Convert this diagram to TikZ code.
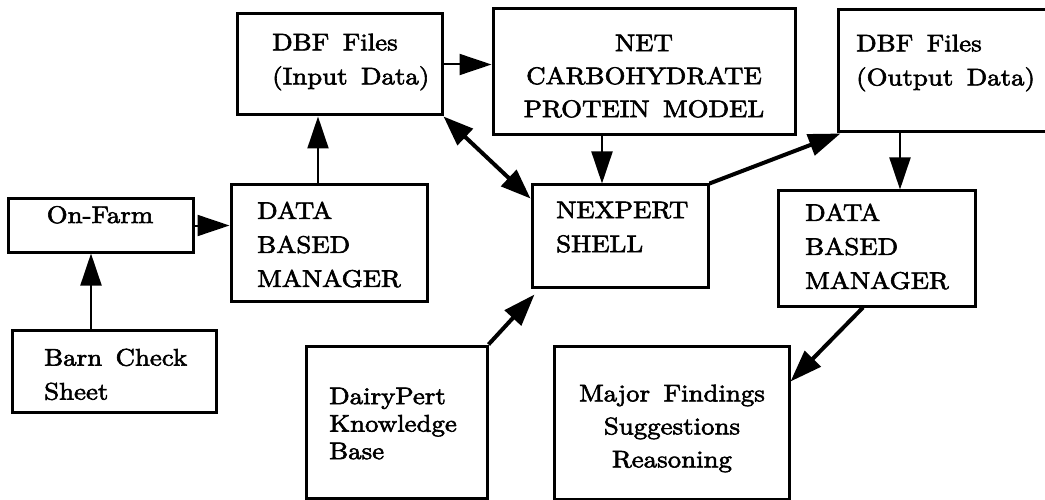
\documentclass[tikz,border=0pt]{standalone}
\usepackage{fontspec}
\setmainfont{lmroman10-regular.otf}[FakeStretch=1.12,FakeBold=2.5,WordSpace=1.5]
\usetikzlibrary{arrows.meta}
\begin{document}
\begin{tikzpicture}[x=1pt,y=-1pt,
  box/.style={draw,line width=3pt,rectangle,inner sep=0pt},
  lbl/.style={inner sep=0pt,font=\fontsize{24}{34}\selectfont,align=left},
  clbl/.style={inner sep=0pt,font=\fontsize{24}{33}\selectfont,align=center},
  thinarrow/.style={line width=2pt,-{Triangle[length=32pt,width=21pt]}},
  thickarrow/.style={line width=4pt,-{Triangle[length=32pt,width=22pt]}},
  bothheads/.style={line width=4pt,{Triangle[length=30pt,width=22pt]}-{Triangle[length=30pt,width=22pt]}},
]
\useasboundingbox (0,0) rectangle (1045,500);

% boxes
\node[box,minimum width=185pt,minimum height=53pt]  (onfarm)  at (100.5,225.5) {};
\node[box,minimum width=204pt,minimum height=82pt]  (barn)    at (114,371) {};
\node[box,minimum width=196pt,minimum height=116pt] (dbmL)    at (329,243) {};
\node[box,minimum width=205pt,minimum height=101pt] (dbfin)   at (339.5,64.5) {};
\node[box,minimum width=302pt,minimum height=126pt] (net)     at (644,72) {};
\node[box,minimum width=176pt,minimum height=102pt] (nexpert) at (620,236) {};
\node[box,minimum width=181pt,minimum height=152pt] (dairy)   at (396.5,422) {};
\node[box,minimum width=212pt,minimum height=122pt] (dbfout)  at (944,71) {};
\node[box,minimum width=197pt,minimum height=115pt] (dbmR)    at (876.5,248.5) {};
\node[box,minimum width=235pt,minimum height=153pt] (major)   at (671.5,422.5) {};

% texts
\node[lbl,anchor=north west] (dbfinT)   at (272,33.5)  {DBF Files\\(Input Data)};
\node[clbl,anchor=north]     (netT)     at (644,34.5)  {NET\\CARBOHYDRATE\\PROTEIN MODEL};
\node[lbl,anchor=north west] (dbfoutT)  at (856,34.5)  {DBF Files\\(Output Data)};
\node[clbl,anchor=base]      (onfarmT)  at (100,223)   {On-Farm};
\node[lbl,anchor=north west] (dbmLT)    at (257,201.5) {DATA\\BASED\\MANAGER};
\node[lbl,anchor=north west] (nexpertT) at (556,201.5) {NEXPERT\\SHELL};
\node[lbl,anchor=north west] (dbmRT)    at (805,203.5) {DATA\\BASED\\MANAGER};
\node[lbl,anchor=north west] (barnT)    at (44,348.5)  {Barn Check\\Sheet};
\node[lbl,anchor=north west,font=\fontsize{24}{27.5}\selectfont] (dairyT) at (329,387.5) {DairyPert\\Knowledge\\Base};
\node[clbl,anchor=north]     (majorT)   at (672,384.5) {Major Findings\\Suggestions\\Reasoning};

% connectors
\draw[thinarrow] (onfarm.east) -- (onfarm.east -| dbmL.west);
\draw[thinarrow] ([xshift=-23pt]barn.north) -- ([xshift=-23pt]barn.north |- onfarm.south);
\draw[thinarrow] ([xshift=-11pt]dbmL.north) -- ([xshift=-11pt]dbmL.north |- dbfin.south);
\draw[thinarrow] (dbfin.east) -- (dbfin.east -| net.west);
\draw[bothheads] (dbfin.south east) -- ([yshift=-15pt]nexpert.north west);
\draw[thinarrow] ([xshift=-18pt]nexpert.north |- net.south) -- ([xshift=-18pt]nexpert.north);
\draw[thickarrow] (nexpert.north east) -- ([xshift=4pt]dbfout.south west);
\draw[thinarrow] ([xshift=23.5pt]dbmR.north |- dbfout.south) -- ([xshift=23.5pt]dbmR.north);
\draw[thickarrow] ([xshift=-13.5pt]dbmR.south) -- ([yshift=-37pt]major.north east);
\draw[thickarrow] (dairy.north east) -- ([xshift=4pt,yshift=-6pt]nexpert.south west);
\end{tikzpicture}
\end{document}
